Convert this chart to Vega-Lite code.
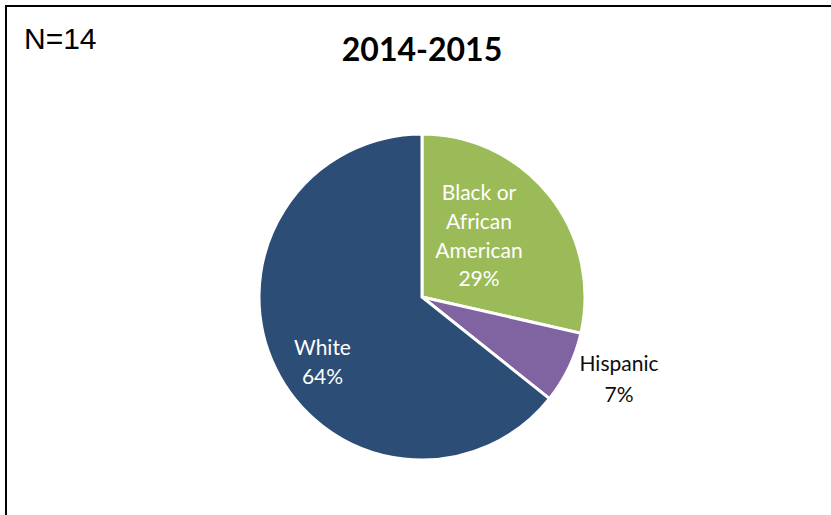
{
  "$schema": "https://vega.github.io/schema/vega-lite/v6.json",
  "padding": {"left": 5, "top": 5, "right": -8, "bottom": -74},
  "background": "white",
  "title": {"text": "N=14", "anchor": "start", "frame": "group", "orient": "top", "font": "Liberation Sans", "fontSize": 30, "fontWeight": "normal", "color": "black", "offset": -50, "dx": 18},
  "vconcat": [
    {
      "width": 832,
      "height": 582,
      "view": {"stroke": "black", "strokeWidth": 2, "fill": "white"},
      "title": {"text": "2014-2015", "font": "Lato", "fontSize": 32, "fontWeight": "bold", "color": "black", "anchor": "middle", "frame": "group", "offset": -62},
      "data": {
        "values": [
          {"group": "Black or African American", "count": 4, "label": "Black or\nAfrican\nAmerican\n29%"},
          {"group": "Hispanic", "count": 1, "label": "Hispanic\n7%"},
          {"group": "White", "count": 9, "label": "White\n64%"}
        ]
      },
      "encoding": {
        "theta": {"field": "count", "type": "quantitative", "stack": true},
        "order": {"field": "group", "type": "ordinal", "sort": "ascending"}
      },
      "layer": [
        {
          "mark": {"type": "arc", "radius": 163, "stroke": "white", "strokeWidth": 3},
          "encoding": {
            "color": {
              "field": "group",
              "type": "nominal",
              "scale": {"domain": ["Black or African American", "Hispanic", "White"], "range": ["#9BBB59", "#8064A2", "#2C4D75"]},
              "legend": null
            }
          }
        },
        {
          "mark": {"type": "text", "radius": 117.5, "thetaOffset": -0.391, "font": "Lato", "fontSize": 21, "lineHeight": 28.7, "lineBreak": "\n", "color": "white", "align": "center", "baseline": "middle"},
          "encoding": {"text": {"condition": {"test": "datum.group === 'Black or African American'", "field": "label"}, "value": ""}}
        },
        {
          "mark": {"type": "text", "radius": 208.4, "thetaOffset": -0.116, "font": "Lato", "fontSize": 21, "lineHeight": 30.5, "lineBreak": "\n", "color": "#0D0D0D", "align": "center", "baseline": "middle"},
          "encoding": {"text": {"condition": {"test": "datum.group === 'Hispanic'", "field": "label"}, "value": ""}}
        },
        {
          "mark": {"type": "text", "radius": 112.3, "thetaOffset": -0.033, "font": "Lato", "fontSize": 21, "lineHeight": 28.5, "lineBreak": "\n", "color": "white", "align": "center", "baseline": "middle"},
          "encoding": {"text": {"condition": {"test": "datum.group === 'White'", "field": "label"}, "value": ""}}
        }
      ]
    }
  ],
  "config": {
    "view": {"stroke": "black", "strokeWidth": 2},
    "style": {"cell": {"stroke": "black", "strokeWidth": 2}},
    "concat": {"spacing": 0}
  }
}
